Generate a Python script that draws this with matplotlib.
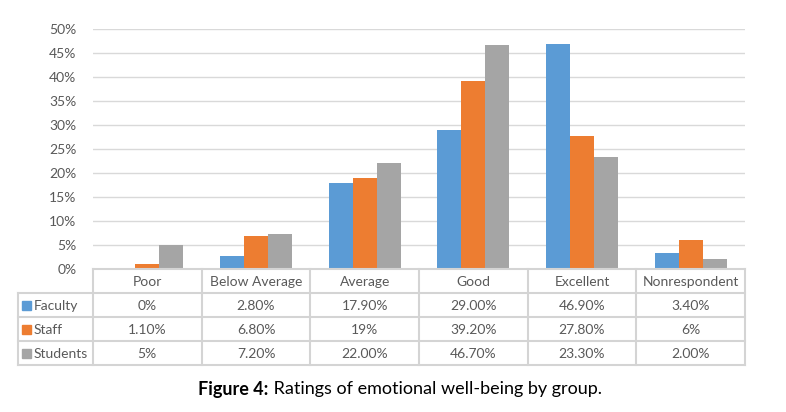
import numpy as np
import matplotlib
matplotlib.use("Agg")
import matplotlib.pyplot as plt

plt.rcParams['font.family'] = ['Lato', 'DejaVu Sans']

categories = ["Poor", "Below Average", "Average", "Good", "Excellent", "Nonrespondent"]
groups = ["Faculty", "Staff", "Students"]
faculty = [0.0, 2.8, 17.9, 29.0, 46.9, 3.4]
staff = [1.1, 6.8, 19.0, 39.2, 27.8, 6.0]
students = [5.0, 7.2, 22.0, 46.7, 23.3, 2.0]
faculty_lbl = ["0%", "2.80%", "17.90%", "29.00%", "46.90%", "3.40%"]
staff_lbl = ["1.10%", "6.80%", "19%", "39.20%", "27.80%", "6%"]
students_lbl = ["5%", "7.20%", "22.00%", "46.70%", "23.30%", "2.00%"]
yticks = [0, 5, 10, 15, 20, 25, 30, 35, 40, 45, 50]

colors = ["#5B9BD5", "#ED7D31", "#A5A5A5"]
grid_c = "#D9D9D9"
txt_c = "#595959"

W, H = 786, 412
fig = plt.figure(figsize=(W / 100, H / 100), dpi=100)

# plot area in pixels
px0, px1 = 93, 745
py_top, py_bot = 29, 269
ax = fig.add_axes([px0 / W, 1 - py_bot / H, (px1 - px0) / W, (py_bot - py_top) / H])

x = np.arange(len(categories)) + 0.5
bw = 0.22
for i, vals in enumerate([faculty, staff, students]):
    ax.bar(x + (i - 1) * bw, vals, width=bw, color=colors[i], zorder=3)

ax.set_xlim(0, len(categories))
ax.set_ylim(0, 50)
ax.set_yticks(yticks)
ax.set_yticklabels([f"{t}%" for t in yticks], color=txt_c, fontsize=10)
ax.set_xticks([])
ax.tick_params(axis='y', length=0, pad=12)
ax.grid(axis='y', color=grid_c, lw=1, zorder=0)
for s in ax.spines.values():
    s.set_visible(False)

# data table drawn in pixel space
tab = fig.add_axes([0, 0, 1, 1], zorder=5)
tab.set_xlim(0, W)
tab.set_ylim(H, 0)
tab.axis('off')
tab.patch.set_alpha(0)

cw = (px1 - px0) / len(categories)
rows_y = [269, 293, 317, 341, 365]
lx = 18
lc = "#D4D4D4"
for k in range(len(categories) + 1):
    tab.plot([px0 + k * cw] * 2, [rows_y[0], rows_y[-1]], color=lc, lw=1.5)
tab.plot([lx, lx], [rows_y[1], rows_y[-1]], color=lc, lw=1.5)
tab.plot([px0, px1], [rows_y[0], rows_y[0]], color=lc, lw=1.5)
for yy in rows_y[1:]:
    tab.plot([lx, px1], [yy, yy], color=lc, lw=1.5)

for j, c in enumerate(categories):
    tab.text(px0 + (j + 0.5) * cw, (rows_y[0] + rows_y[1]) / 2 + 1, c,
             ha='center', va='center', fontsize=10, color=txt_c)

labels = [faculty_lbl, staff_lbl, students_lbl]
for i, g in enumerate(groups):
    yc = (rows_y[i + 1] + rows_y[i + 2]) / 2 + 1
    tab.add_patch(plt.Rectangle((22, yc - 5), 9, 9, color=colors[i]))
    tab.text(34, yc, g, ha='left', va='center', fontsize=10, color=txt_c)
    for j in range(len(categories)):
        tab.text(px0 + (j + 0.5) * cw, yc, labels[i][j],
                 ha='center', va='center', fontsize=10, color=txt_c)

# caption with bold prefix
t1 = tab.text(0, 389, "Figure 4:", ha='left', va='center', fontsize=13,
              fontweight='bold', color='black')
t2 = tab.text(0, 389, " Ratings of emotional well-being by group.", ha='left',
              va='center', fontsize=13, color='black')
r = fig.canvas.get_renderer()
w1 = t1.get_window_extent(r).width
w2 = t2.get_window_extent(r).width
start = 400 - (w1 + w2) / 2
t1.set_x(start)
t2.set_x(start + w1)

fig.savefig("out.png", dpi=100)
